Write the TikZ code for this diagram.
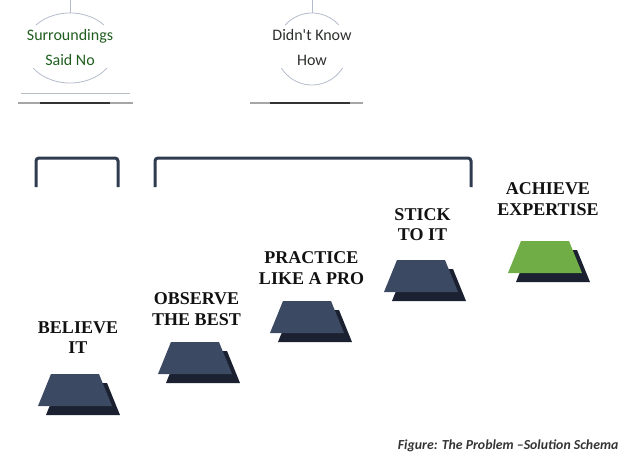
\documentclass[tikz,border=0pt]{standalone}
\usepackage{fontspec}
\usepackage{tikz}
\usetikzlibrary{positioning}
\newfontfamily\stepfont{Liberation Serif}
\newfontfamily\calfont{Carlito}
\definecolor{Ink}{HTML}{111111}
\definecolor{StepBlue}{HTML}{3B4963}
\definecolor{StepShade}{HTML}{1B2130}
\definecolor{Goal}{HTML}{70AD47}
\definecolor{Brace}{HTML}{2F3B4F}
\definecolor{Ring}{HTML}{B4BCCB}
\definecolor{Rule}{HTML}{B8BEC6}
\definecolor{SaidGreen}{HTML}{1F5E1F}
\definecolor{HowGrey}{HTML}{2C2F2C}

\begin{document}
\begin{tikzpicture}[x=1pt,y=-1pt,
  lbl/.style={align=center,font=\fontsize{18}{20.5}\selectfont\stepfont\bfseries,text=Ink,inner sep=0pt},
  ringtxt/.style={align=center,font=\fontsize{16}{25.5}\selectfont\calfont,inner sep=0pt},
  ring/.style={Ring,line width=0.8pt},
  brace/.style={Brace,line width=3pt,rounded corners=3pt}]
  \useasboundingbox (0,0) rectangle (627,460);

  % problem circles
  \draw[ring] (70,0) -- (70,13);
  \draw[ring] (36.0,25.0) arc[start angle=221,end angle=319,x radius=45,y radius=35];
  \draw[ring] (106.9,68.1) arc[start angle=35,end angle=145,x radius=45,y radius=35];
  \node[ringtxt,text=SaidGreen] (said) at (70,47.5) {Surroundings\\Said No};
  \draw[Rule] (21,93) -- (130,93);
  \draw[black!35,line width=1.5pt] (18,103) -- (133,103);
  \draw[black!80,line width=1.2pt] (40,103) -- (110,103);

  \draw[ring] (312,0) -- (312,13);
  \draw[ring] (285.2,25.0) arc[start angle=221.8,end angle=318.2,radius=36];
  \draw[ring] (342.5,68.0) arc[start angle=31.9,end angle=148.1,radius=36];
  \node[ringtxt,text=HowGrey] (how) at (312,47.5) {Didn't Know\\How};
  \draw[black!35,line width=1.5pt] (250,103) -- (363,103);
  \draw[black!80,line width=1.2pt] (270,103) -- (350,103);

  % brackets
  \draw[brace] (36,187) -- (36,158) -- (118,158) -- (118,187);
  \draw[brace] (155,187) -- (155,158) -- (471,158) -- (471,187);

  % steps
  \foreach \cx/\ty/\fillc in {75/374/StepBlue,195/342/StepBlue,307/301/StepBlue,421/260/StepBlue,545/241/Goal}{
    \fill[StepShade] (\cx-16,\ty+9) -- (\cx+32,\ty+9) -- (\cx+45,\ty+41) -- (\cx-29,\ty+41) -- cycle;
    \fill[\fillc] (\cx-24,\ty) -- (\cx+24,\ty) -- (\cx+37,\ty+32) -- (\cx-37,\ty+32) -- cycle;
  }

  \node[lbl] (believe) at (78,337.5) {BELIEVE\\IT};
  \node[lbl] (observe) at (196.5,309) {OBSERVE\\THE BEST};
  \node[lbl] (practice) at (311.5,268) {PRACTICE\\LIKE A PRO};
  \node[lbl] (stick) at (422.5,224.5) {STICK\\TO IT};
  \node[lbl] (achieve) at (548,199) {ACHIEVE\\EXPERTISE};

  \node[anchor=base east,font=\fontsize{13.8}{16}\selectfont\calfont\bfseries\itshape,text=Ink!85] (caption) at (622,449.5) {Figure: The Problem –Solution Schema};
\end{tikzpicture}
\end{document}
